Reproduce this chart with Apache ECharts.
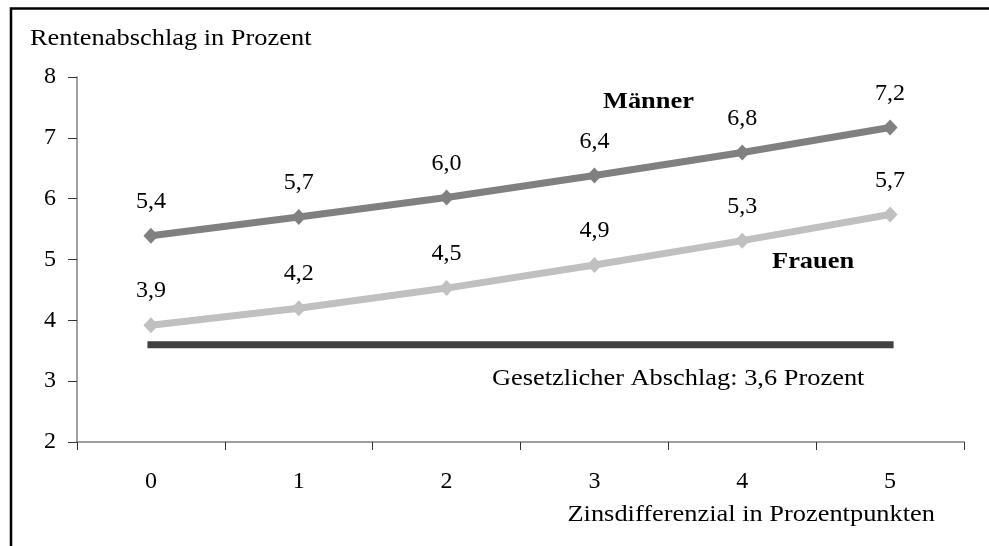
<!DOCTYPE html>
<html><head><meta charset="utf-8">
<script src="https://cdn.jsdelivr.net/npm/echarts@6/dist/echarts.min.js"></script>
<style>html,body{margin:0;padding:0;background:#fff}#c{width:989px;height:546px}</style>
</head><body><div id="c"></div>
<script>
const categories = ['0','1','2','3','4','5'];
const maenner = [5.39, 5.70, 6.02, 6.38, 6.76, 7.17];
const frauen = [3.92, 4.20, 4.53, 4.91, 5.31, 5.74];
const gesetzlich = [3.6, 3.6, 3.6, 3.6, 3.6, 3.6];
const yTicks = [2, 3, 4, 5, 6, 7, 8];

const F = 'Liberation Serif, Times New Roman, serif';
const FS = 24;
const fmt = p => p.value.toFixed(1).replace('.', ',');
const chart = echarts.init(document.getElementById('c'), null, {renderer:'canvas'});
// baseline-based placement: y given is the text baseline
const txt = (x, base, s, bold, align) => ({
  type: 'text', x: x, y: base - 8, scaleX: 1.1,
  style: {text: s, fontFamily: F, fontSize: FS, fontWeight: bold ? 'bold' : 'normal', fill: '#000', align: align || 'left', verticalAlign: 'middle'}
});
chart.setOption({
  animation: false,
  backgroundColor: '#fff',
  grid: {left: 77, top: 77, right: 25, bottom: 104},
  xAxis: {
    type: 'category', data: categories, boundaryGap: true,
    axisLine: {lineStyle: {color: '#808080', width: 1.5}},
    axisTick: {show: true, length: 8, inside: false, lineStyle: {color: '#333'}},
    axisLabel: {color: '#000', fontFamily: F, fontSize: FS, margin: 28},
    splitLine: {show: false}
  },
  yAxis: {
    type: 'value', min: yTicks[0], max: yTicks[yTicks.length-1], interval: 1,
    axisLine: {show: true, lineStyle: {color: '#808080', width: 1.5}},
    axisTick: {show: true, length: 9, lineStyle: {color: '#333'}},
    axisLabel: {color: '#000', fontFamily: F, fontSize: FS, margin: 21},
    splitLine: {show: false}
  },
  series: [
    {
      type: 'line', data: gesetzlich, symbol: 'none', silent: true,
      lineStyle: {color: '#404040', width: 7, cap: 'square'}, z: 1
    },
    {
      type: 'line', data: frauen, symbol: 'diamond', symbolSize: [15, 16],
      itemStyle: {color: '#c0c0c0'}, lineStyle: {color: '#c0c0c0', width: 7},
      label: {show: true, position: 'top', distance: 14, formatter: fmt, color: '#000', fontFamily: F, fontSize: FS}, z: 2
    },
    {
      type: 'line', data: maenner, symbol: 'diamond', symbolSize: [15, 16],
      itemStyle: {color: '#808080'}, lineStyle: {color: '#808080', width: 7},
      label: {show: true, position: 'top', distance: 14, formatter: fmt, color: '#000', fontFamily: F, fontSize: FS}, z: 3
    }
  ],
  graphic: [
    {type: 'polyline', shape: {points: [[11, 560], [11, 8.5], [1000, 8.5]]}, style: {stroke: '#000', lineWidth: 2.5, fill: null}},
    txt(30, 47, 'Rentenabschlag in Prozent'),
    txt(935, 523, 'Zinsdifferenzial in Prozentpunkten', false, 'right'),
    txt(603, 110, 'Männer', true),
    txt(772, 270, 'Frauen', true),
    txt(492, 387, 'Gesetzlicher Abschlag: 3,6 Prozent')
  ]
});
</script></body></html>
